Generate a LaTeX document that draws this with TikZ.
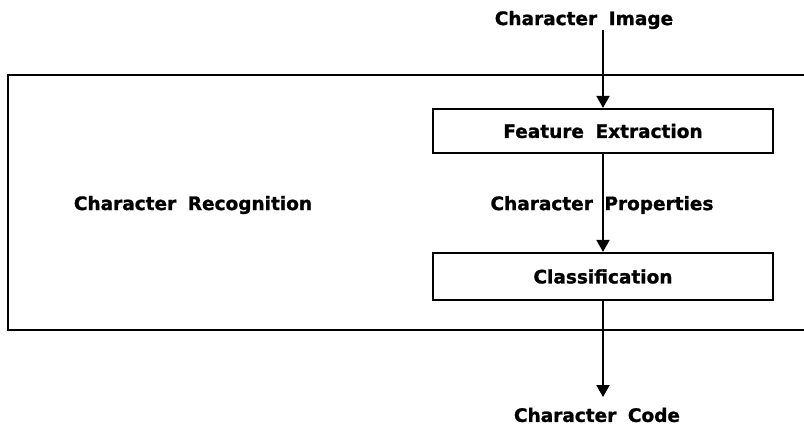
\documentclass[tikz,border=0pt]{standalone}
\usepackage{fontspec}
\setmainfont{DejaVu Sans}[WordSpace=1.8, BoldFeatures={FakeBold=1.2}]
\usetikzlibrary{arrows.meta}
\tikzset{
  lab/.style={inner sep=1pt, font=\bfseries\fontsize{18.5}{22}\selectfont},
  procbox/.style={draw, line width=2.2pt, minimum width=340pt, inner sep=0pt},
  flow/.style={line width=2pt, -{Triangle[length=12pt,width=13pt]}},
  outer/.style={line width=2.8pt}
}
\begin{document}
\begin{tikzpicture}[x=1pt,y=-1pt]
\useasboundingbox (0,0) rectangle (804,432);
% outer frame (right edge beyond the picture)
\draw[outer] (812,75) -- (8,75) -- (8,330) -- (812,330);
\node[lab] (cr) at (193,205) {Character Recognition};
% text labels
\node[lab] (ci) at (584,20) {Character Image};
\node[procbox, lab, minimum height=44pt] (fe) at (603,131) {Feature Extraction};
\node[lab] (cp) at (602,205) {Character Properties};
\node[procbox, lab, minimum height=47pt] (cl) at (603,276.5) {Classification};
\node[lab] (cc) at (597,415) {Character Code};
\coordinate (ccin) at (603,397);
% connectors
\draw[flow] (ci.south -| fe.north) -- (fe.north);
\draw[flow] (fe.south) -- (cl.north);
\draw[flow] (cl.south) -- (ccin);
\end{tikzpicture}
\end{document}
